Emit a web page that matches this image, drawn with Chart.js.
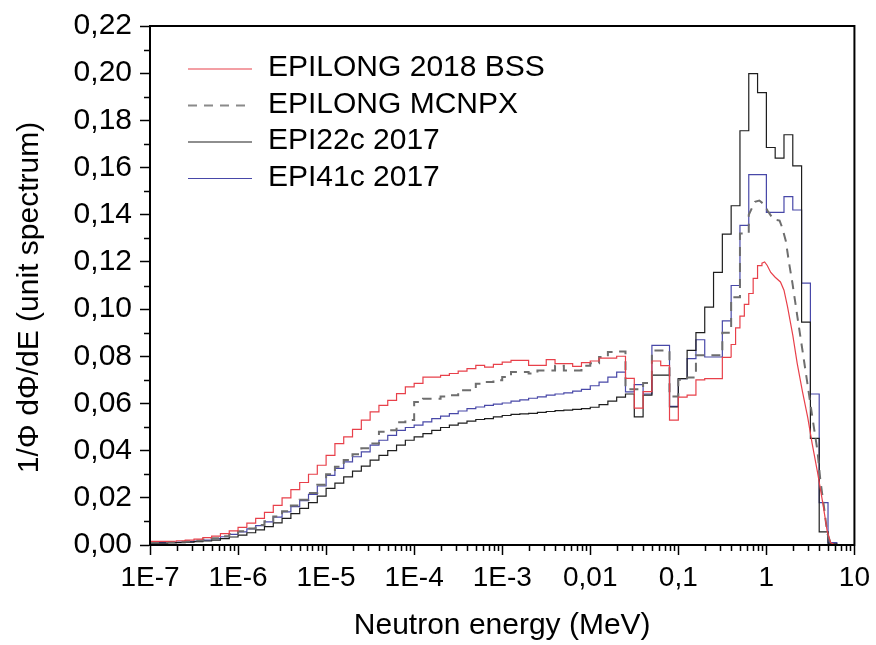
<!DOCTYPE html>
<html><head><meta charset="utf-8">
<script src="https://cdn.jsdelivr.net/npm/chart.js@4.4.1/dist/chart.umd.min.js"></script>
<style>html,body{margin:0;padding:0;background:#fff;}canvas{display:block;}</style>
</head><body>
<canvas id="c" width="876" height="645"></canvas>
<script>
// ---- categories / ticks ----
const decadeStarts = [1e-7, 1e-6, 1e-5, 1e-4, 1e-3, 1e-2, 1e-1, 1];
const binMantissas = [1, 1.259, 1.585, 1.995, 2.512, 3.162, 3.981, 5.012, 6.310, 7.943];
const lastEdge = 10;
const xTickValues = [1e-7, 1e-6, 1e-5, 1e-4, 1e-3, 0.01, 0.1, 1, 10];
const xTickLabels = ['1E-7', '1E-6', '1E-5', '1E-4', '1E-3', '0,01', '0,1', '1', '10'];
const yTickValues = [0, 0.02, 0.04, 0.06, 0.08, 0.10, 0.12, 0.14, 0.16, 0.18, 0.20, 0.22];
const yTickLabels = ['0,00', '0,02', '0,04', '0,06', '0,08', '0,10', '0,12', '0,14', '0,16', '0,18', '0,20', '0,22'];
const seriesLabels = ['EPILONG 2018 BSS', 'EPILONG MCNPX', 'EPI22c 2017', 'EPI41c 2017'];

// ---- EPILONG 2018 BSS (red) ----
const redGrid = [
  0.0015, 0.0015, 0.0016, 0.0018, 0.0021, 0.0025, 0.0031, 0.0038, 0.0048, 0.0060,
  0.0075, 0.0093, 0.0113, 0.0138, 0.0168, 0.0200, 0.0235, 0.0265, 0.0300, 0.0338,
  0.0380, 0.0430, 0.0458, 0.0490, 0.0529, 0.0564, 0.0592, 0.0613, 0.0642, 0.0670,
  0.0685, 0.0712, 0.0712, 0.0719, 0.0727, 0.0737, 0.0748, 0.0761, 0.0754, 0.0766,
  0.0775, 0.0783, 0.0783, 0.0761, 0.0761, 0.0786, 0.0769, 0.0769, 0.0757, 0.0773,
  0.0780, 0.0792, 0.0792, 0.0800, 0.0706, 0.0580, 0.0650, 0.0780, 0.0760, 0.0529,
  0.0627, 0.0635, 0.0700, 0.0705, 0.0705, 0.0795];
const redFineEdges = [0.398, 0.447, 0.501, 0.562, 0.631, 0.708, 0.794, 0.891];
const redFineValues = [0.0850, 0.0920, 0.0970, 0.1020, 0.1066, 0.1130, 0.1184];
const redSmoothE = [0.891, 0.955, 1.023, 1.122, 1.259, 1.445, 1.585, 1.738, 1.995, 2.239, 2.570, 2.951, 3.311, 3.802, 4.365, 4.898, 5.370, 6.026];
const redSmoothV = [0.1195, 0.1200, 0.1185, 0.1155, 0.1135, 0.1115, 0.1080, 0.1010, 0.0890, 0.0770, 0.0650, 0.0540, 0.0430, 0.0310, 0.0180, 0.0060, 0.0010, 0.0];

// ---- EPILONG MCNPX (grey dashed) ----
const mcnpxGrid = [
  0.0012, 0.0012, 0.0013, 0.0014, 0.0016, 0.0019, 0.0023, 0.0029, 0.0037, 0.0047,
  0.0058, 0.0070, 0.0085, 0.0101, 0.0121, 0.0143, 0.0167, 0.0192, 0.0220, 0.0255,
  0.0300, 0.0332, 0.0360, 0.0385, 0.0410, 0.0430, 0.0480, 0.0486, 0.0520, 0.0530,
  0.0606, 0.0620, 0.0620, 0.0630, 0.0635, 0.0656, 0.0656, 0.0684, 0.0691, 0.0698,
  0.0712, 0.0733, 0.0733, 0.0727, 0.0740, 0.0740, 0.0760, 0.0740, 0.0740, 0.0760,
  0.0770, 0.0797, 0.0818, 0.0820, 0.0660, 0.0660, 0.0687, 0.0825, 0.0825, 0.0630,
  0.0700, 0.0710, 0.0804, 0.0804, 0.0804, 0.0900, 0.1050, 0.1320];
const mcnpxSmoothE = [0.631, 0.741, 0.832, 0.933, 1.033, 1.202, 1.413, 1.514, 1.660, 1.820, 1.977, 2.254, 2.570, 2.924, 3.334, 3.802, 4.102, 4.560, 4.920, 5.333, 6.026];
const mcnpxSmoothV = [0.1400, 0.1455, 0.1460, 0.1445, 0.1417, 0.1380, 0.1375, 0.1345, 0.1290, 0.1190, 0.1110, 0.0966, 0.0825, 0.0685, 0.0540, 0.0400, 0.0275, 0.0148, 0.0050, 0.0010, 0.0];

// ---- EPI22c 2017 (black) ----
const epi22Grid = [
  0.0008, 0.0008, 0.0009, 0.0010, 0.0012, 0.0014, 0.0017, 0.0021, 0.0027, 0.0034,
  0.0042, 0.0052, 0.0064, 0.0078, 0.0094, 0.0113, 0.0133, 0.0155, 0.0180, 0.0207,
  0.0240, 0.0262, 0.0289, 0.0313, 0.0334, 0.0360, 0.0380, 0.0400, 0.0423, 0.0444,
  0.0458, 0.0472, 0.0486, 0.0498, 0.0508, 0.0517, 0.0525, 0.0532, 0.0536, 0.0543,
  0.0549, 0.0554, 0.0556, 0.0558, 0.0562, 0.0566, 0.0570, 0.0572, 0.0575, 0.0578,
  0.0584, 0.0595, 0.0610, 0.0627, 0.0640, 0.0543, 0.0635, 0.0720, 0.0720, 0.0585,
  0.0705, 0.0825, 0.0900, 0.1008, 0.1156, 0.1318, 0.1438, 0.1756, 0.1998, 0.1918,
  0.1685, 0.1640, 0.1739, 0.1607, 0.0945, 0.0452, 0.0056, 0.0005, 0.0, 0.0];

// ---- EPI41c 2017 (blue) ----
const epi41Grid = [
  0.0010, 0.0010, 0.0011, 0.0012, 0.0014, 0.0017, 0.0021, 0.0027, 0.0035, 0.0045,
  0.0056, 0.0068, 0.0082, 0.0098, 0.0118, 0.0140, 0.0163, 0.0188, 0.0215, 0.0250,
  0.0295, 0.0325, 0.0352, 0.0374, 0.0395, 0.0423, 0.0444, 0.0465, 0.0486, 0.0498,
  0.0508, 0.0522, 0.0536, 0.0546, 0.0557, 0.0568, 0.0578, 0.0585, 0.0592, 0.0597,
  0.0602, 0.0610, 0.0615, 0.0622, 0.0628, 0.0635, 0.0640, 0.0645, 0.0652, 0.0660,
  0.0675, 0.0690, 0.0712, 0.0733, 0.0649, 0.0680, 0.0640, 0.0846, 0.0846, 0.0588,
  0.0705, 0.0790, 0.0870, 0.0797, 0.0797, 0.0950, 0.1100, 0.1355, 0.1570, 0.1570,
  0.1410, 0.1410, 0.1477, 0.1420, 0.1110, 0.0640, 0.0180, 0.0010, 0.0, 0.0];

// ---- build point tables ----
const gridEdges = decadeStarts.flatMap(d => binMantissas.map(m => d * m)).concat([lastEdge]);
function stepPoints(edges, values) {
  const pts = [];
  values.forEach((v, i) => { pts.push({x: edges[i], y: v}, {x: edges[i + 1], y: v}); });
  return pts;
}
function linePoints(es, vs) { return es.map((e, i) => ({x: e, y: vs[i]})); }

const redData = stepPoints(gridEdges, redGrid).concat(stepPoints(redFineEdges, redFineValues), linePoints(redSmoothE, redSmoothV));
const mcnpxData = stepPoints(gridEdges, mcnpxGrid).concat(linePoints(mcnpxSmoothE, mcnpxSmoothV));
const epi22Data = stepPoints(gridEdges, epi22Grid);
const epi41Data = stepPoints(gridEdges, epi41Grid);

const FONT = '"Liberation Sans", Arial, Helvetica, sans-serif';
Chart.defaults.font.family = FONT;
Chart.defaults.color = '#000';

const framePlugin = {
  id: 'frameTicks',
  afterDraw(chart) {
    const {ctx, chartArea: a, scales: {x, y}} = chart;
    ctx.save();
    ctx.strokeStyle = '#000';
    ctx.lineWidth = 2;
    ctx.strokeRect(a.left, a.top, a.right - a.left, a.bottom - a.top);
    ctx.lineWidth = 1.5;
    ctx.beginPath();
    for (const d of decadeStarts) {
      for (let k = 2; k <= 9; k++) {
        const px = Math.round(x.getPixelForValue(d * k)) + 0.5;
        ctx.moveTo(px, a.bottom); ctx.lineTo(px, a.bottom + 6);
      }
    }
    for (let i = 0; i < yTickValues.length - 1; i++) {
      const v = (yTickValues[i] + yTickValues[i + 1]) / 2;
      const py = Math.round(y.getPixelForValue(v)) + 0.5;
      ctx.moveTo(a.left, py); ctx.lineTo(a.left - 6, py);
    }
    ctx.stroke();
    // y title
    ctx.fillStyle = '#000';
    ctx.font = '30px ' + FONT;
    ctx.textAlign = 'center';
    ctx.textBaseline = 'middle';
    ctx.translate(30, (a.top + a.bottom) / 2 + 12);
    ctx.rotate(-Math.PI / 2);
    ctx.fillText('1/\u03A6 d\u03A6/dE (unit spectrum)', 0, 0);
    ctx.restore();
    // legend inside plot
    const lx = a.left + 38, ly = a.top + 43, gap = 36.5;
    chart.data.datasets.forEach((ds, i) => {
      const yy = ly + gap * i;
      ctx.save();
      ctx.strokeStyle = ds.legendColor || ds.borderColor;
      ctx.lineWidth = ds.borderWidth;
      ctx.setLineDash(ds.borderDash || []);
      ctx.beginPath(); ctx.moveTo(lx, yy); ctx.lineTo(lx + 64, yy); ctx.stroke();
      ctx.setLineDash([]);
      ctx.fillStyle = '#000';
      ctx.font = '30px ' + FONT;
      ctx.textBaseline = 'middle';
      ctx.textAlign = 'left';
      ctx.fillText(ds.label, lx + 80, yy - 1);
      ctx.restore();
    });
  }
};

new Chart(document.getElementById('c'), {
  type: 'line',
  data: {
    datasets: [
      {label: seriesLabels[0], data: redData, borderColor: '#e8404a', borderWidth: 1.2},
      {label: seriesLabels[1], data: mcnpxData, borderColor: '#6e6e6e', legendColor: '#8a8a8a', borderWidth: 2, borderDash: [9, 7]},
      {label: seriesLabels[2], data: epi22Data, borderColor: '#1e1e1e', borderWidth: 1.2},
      {label: seriesLabels[3], data: epi41Data, borderColor: '#4848a8', borderWidth: 1.2}
    ]
  },
  options: {
    responsive: false,
    animation: false,
    devicePixelRatio: 1,
    parsing: true,
    elements: {point: {radius: 0}, line: {tension: 0}},
    layout: {padding: {top: 25, right: 19, left: 0, bottom: 0}},
    plugins: {legend: {display: false}, tooltip: {enabled: false}},
    scales: {
      x: {
        type: 'logarithmic', min: 1e-7, max: 10,
        afterBuildTicks: s => { s.ticks = xTickValues.map(v => ({value: v})); },
        afterFit: s => { s.height = 100; },
        ticks: {autoSkip: false, maxRotation: 0, padding: 6, font: {size: 28}, color: '#000',
                callback: (v, i) => xTickLabels[i]},
        grid: {drawOnChartArea: false, drawTicks: true, tickLength: 10, tickColor: '#000', tickWidth: 1.5},
        border: {display: true, color: '#000', width: 2},
        title: {display: true, text: 'Neutron energy (MeV)', font: {size: 30}, color: '#000', padding: {top: 0, bottom: 1}}
      },
      y: {
        type: 'linear', min: 0, max: 0.22,
        afterBuildTicks: s => { s.ticks = yTickValues.map(v => ({value: v})); },
        afterFit: s => { s.width = 150; },
        ticks: {autoSkip: false, padding: 8, font: {size: 30}, color: '#000',
                callback: (v, i) => yTickLabels[i]},
        grid: {drawOnChartArea: false, drawTicks: true, tickLength: 10, tickColor: '#000', tickWidth: 1.5},
        border: {display: true, color: '#000', width: 2}
      }
    }
  },
  plugins: [framePlugin]
});
</script>
</body></html>
